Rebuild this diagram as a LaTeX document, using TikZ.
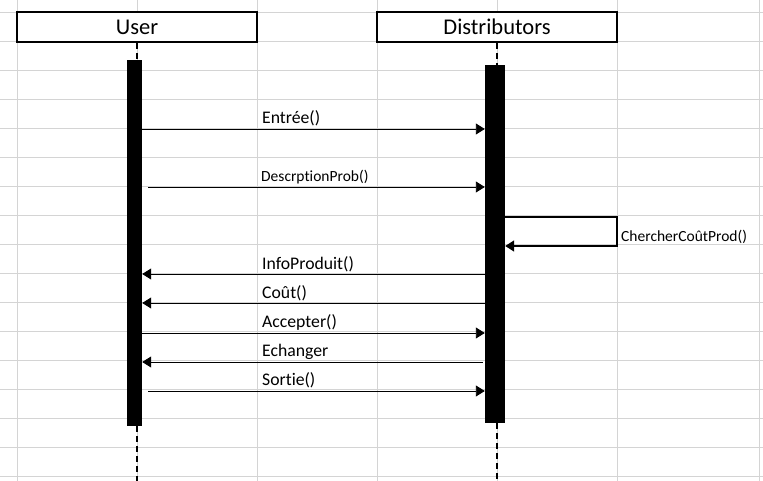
\documentclass[tikz,border=0pt]{standalone}
\usepackage{fontspec}
\setmainfont[Ligatures={NoCommon}]{Carlito}
\usetikzlibrary{arrows.meta}
\definecolor{gridgray}{HTML}{D4D4D4}
\begin{document}
\begin{tikzpicture}[x=1pt,y=-1pt,
  gridline/.style={draw=gridgray, line width=1pt},
  head/.style={draw, fill=white, line width=1.6pt, minimum width=240pt, minimum height=30pt, inner sep=0pt, text height=16pt, text depth=0pt, font=\fontsize{22.5}{26}\selectfont},
  bar/.style={fill=black, inner sep=0pt},
  life/.style={line width=1.8pt, dash pattern=on 6pt off 4pt},
  msg/.style={line width=0.9pt, -{Triangle[length=9pt,width=11pt]}},
  selfmsg/.style={line width=1.5pt, -{Triangle[length=9pt,width=11pt]}},
  lbl/.style={anchor=base west, inner sep=0pt, font=\fontsize{17.7}{20}\selectfont},
  smalllbl/.style={anchor=base west, inner sep=0pt, font=\fontsize{15.5}{18}\selectfont}]
\useasboundingbox (0,0) rectangle (763,481);
\fill[white] (0,0) rectangle (763,481);
% spreadsheet grid
\foreach \x in {17,137,257,377,497,617,759} \draw[gridline] (\x,0) -- (\x,481);
\foreach \k in {0,...,16} \draw[gridline] (0,{12.5+29*\k}) -- (763,{12.5+29*\k});
% headers
\node[head] (user) at (137,27) {User};
\node[head] (dist) at (497,27) {Distributors};
% activation bars
\node[bar, minimum width=15pt, minimum height=366pt] (ubar) at (134.5,243) {};
\node[bar, minimum width=20pt, minimum height=358pt] (dbar) at (495,244) {};
% lifelines
\draw[life] (user.south) -- (user.south |- ubar.north);
\draw[life] (user.south |- ubar.south) -- (user.south |- 0,481);
\draw[life] (dist.south) -- (dist.south |- dbar.north);
\draw[life] (dist.south |- dbar.south) -- (dist.south |- 0,481);
% messages
\draw[msg] (ubar.east |- 0,129) -- (dbar.west |- 0,129);
\node[lbl] (m1) at (262,123.5) {Entrée()};
\draw[msg] ([xshift=6pt]ubar.east |- 0,187) -- (dbar.west |- 0,187);
\node[smalllbl] (m2) at (261,181.5) {DescrptionProb()};
\coordinate (turn1) at (617,217);
\coordinate (turn2) at (617,246);
\draw[selfmsg] (dbar.east |- turn1) -- (turn1) -- (turn2) -- (dbar.east |- turn2);
\node[smalllbl] (m3) at (621,241) {ChercherCoûtProd()};
\draw[msg] (dbar.west |- 0,274) -- (ubar.east |- 0,274);
\node[lbl] (m4) at (262,269.5) {InfoProduit()};
\draw[msg] (dbar.west |- 0,303) -- (ubar.east |- 0,303);
\node[lbl] (m5) at (262,298) {Coût()};
\draw[msg] (ubar.east |- 0,333) -- (dbar.west |- 0,333);
\node[lbl] (m6) at (262,327) {Accepter()};
\draw[msg] ([xshift=-2pt]dbar.west |- 0,362) -- (ubar.east |- 0,362);
\node[lbl] (m7) at (262,356) {Echanger};
\draw[msg] ([xshift=6pt]ubar.east |- 0,391) -- (dbar.west |- 0,391);
\node[lbl] (m8) at (262,385) {Sortie()};
\end{tikzpicture}
\end{document}
